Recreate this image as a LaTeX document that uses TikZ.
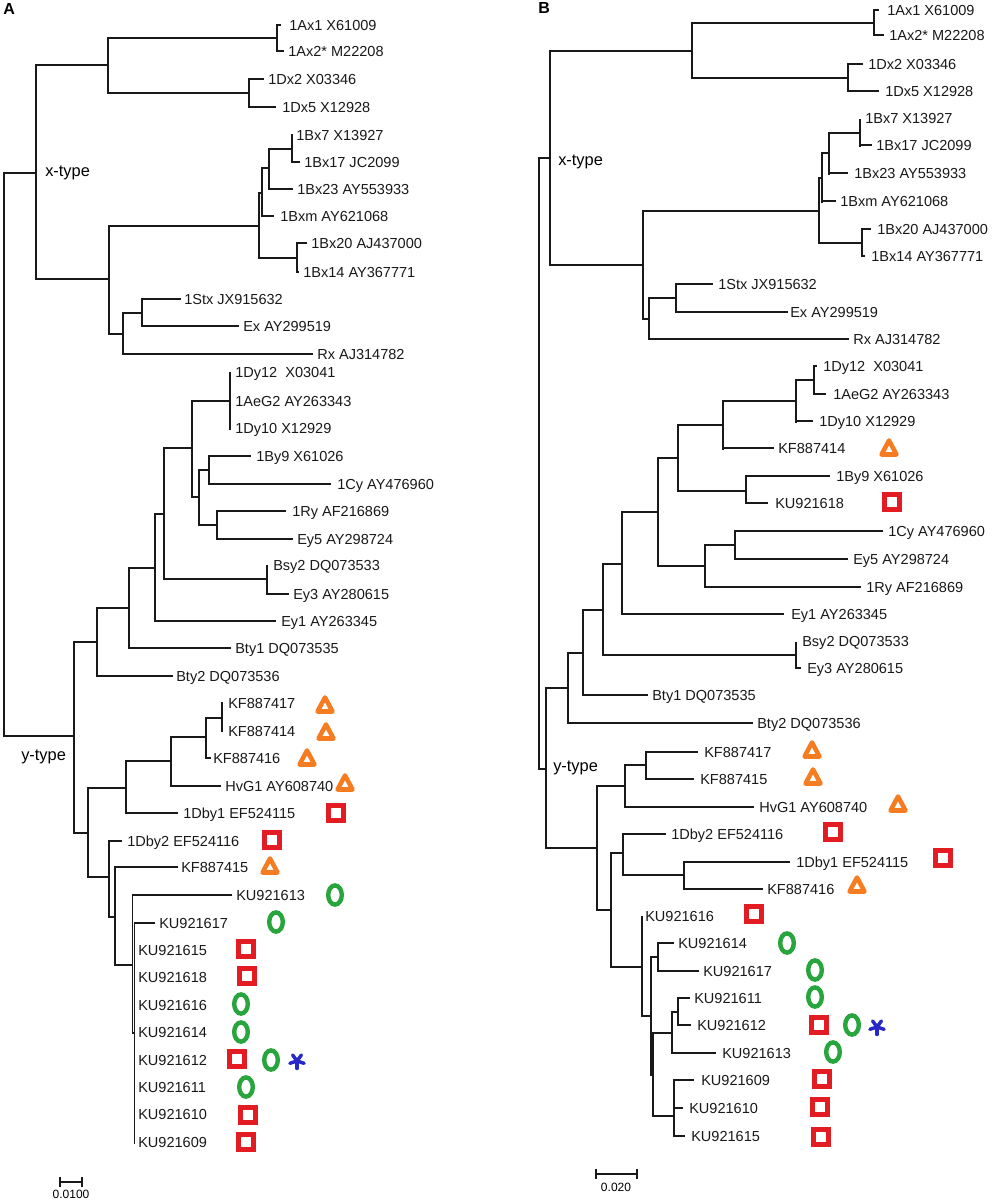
\documentclass[tikz,border=0pt]{standalone}
\usepackage{fontspec}
\setmainfont{Liberation Sans}
\definecolor{mkorange}{RGB}{245,124,32}
\definecolor{mkred}{RGB}{227,27,35}
\definecolor{mkgreen}{RGB}{40,165,60}
\definecolor{mkblue}{RGB}{40,40,200}
\definecolor{brc}{RGB}{25,25,25}
\newcounter{lblcnt}
\newcommand\thl[3]{\draw[br] (#1,#3) -- (#2,#3);}
\newcommand\tvl[3]{\draw[br] (#1,#2) -- (#1,#3);}
\newcommand\tlf[5]{\draw[br] (#1,#4) -- (#2,#4);\stepcounter{lblcnt}\node[lab] (L\arabic{lblcnt}) at (#3,#4+5.2) {#5};}
\newcommand\tlb[3]{\stepcounter{lblcnt}\node[lab] (L\arabic{lblcnt}) at (#1,#2+5.2) {#3};}
\newcommand\mtri[2]{\draw[tri] (#1-7.5,#2+6.5) -- (#1+7.5,#2+6.5) -- (#1,#2-7.5) -- cycle;}
\newcommand\msq[2]{\draw[sqm] (#1-7.5,#2-7.5) rectangle (#1+7.5,#2+7.5);}
\newcommand\mell[2]{\draw[ellm] (#1,#2) ellipse [x radius=6.8, y radius=9.6];}
\newcommand\mstar[2]{\foreach \ang in {90,18,162,234,306}{\draw[starm] (#1,#2) -- ++(\ang:7.5);}}
\begin{document}
\begin{tikzpicture}[x=0.75pt,y=-0.75pt,
  br/.style={draw=brc,line width=1.1pt,line cap=rect},
  lab/.style={anchor=base west,inner sep=0pt,font=\fontsize{10.9pt}{13pt}\selectfont,text=black!90},
  typelab/.style={anchor=base west,inner sep=0pt,font=\fontsize{12.3pt}{14pt}\selectfont},
  panel/.style={anchor=base west,inner sep=0pt,font=\fontsize{12pt}{14pt}\selectfont\bfseries},
  scl/.style={anchor=base,inner sep=0pt,font=\fontsize{9pt}{11pt}\selectfont},
  tri/.style={draw=mkorange,fill=white,line width=3.4pt,line join=round},
  sqm/.style={draw=mkred,fill=white,line width=4.3pt},
  ellm/.style={draw=mkgreen,fill=white,line width=3.3pt},
  starm/.style={draw=mkblue,line width=2.6pt,line cap=round}]
\useasboundingbox[fill=white] (0,0) rectangle (1000,1201);
% ================= Panel A =================
\node[panel] (pA) at (3,15) {A};
\tvl{4}{173}{736}
% x-type
\thl{4}{36}{173}\tvl{36}{65}{279}
\node[typelab] (xA) at (45,177) {x-type};
\thl{36}{108}{65}\tvl{108}{38}{93}
\thl{108}{277}{38}\tvl{277}{25}{51}
\tlf{277}{280}{289}{25}{1Ax1 X61009}
\tlf{277}{283}{288}{51}{1Ax2* M22208}
\thl{108}{249}{93}\tvl{249}{79}{107}
\tlf{249}{263}{268}{79}{1Dx2 X03346}
\tlf{249}{275}{282}{107}{1Dx5 X12928}
\thl{36}{109}{279}\tvl{109}{226}{334}
\thl{109}{259}{226}\tvl{259}{193}{258}
\thl{259}{262}{193}\tvl{262}{168}{216}
\thl{262}{269}{168}\tvl{269}{149}{189}
\thl{269}{292}{149}\tvl{292}{135}{162}
\tlb{296}{135}{1Bx7 X13927}
\tlf{292}{299}{304}{162}{1Bx17 JC2099}
\tlf{269}{292}{297}{189}{1Bx23 AY553933}
\tlf{262}{273}{280}{216}{1Bxm AY621068}
\thl{259}{297}{258}\tvl{297}{243}{272}
\tlf{297}{306}{311}{243}{1Bx20 AJ437000}
\tlf{297}{298}{303}{272}{1Bx14 AY367771}
\thl{109}{123}{334}\tvl{123}{313}{354}
\thl{123}{142}{313}\tvl{142}{299}{326}
\tlf{142}{180}{184}{299}{1Stx JX915632}
\tlf{142}{238}{243}{326}{Ex AY299519}
\tlf{123}{312}{317}{354}{Rx AJ314782}
% y-type
\thl{4}{74}{736}\tvl{74}{642}{833}
\node[typelab] (yA) at (21,760) {y-type};
\thl{74}{97}{642}\tvl{97}{608}{676}
\thl{97}{129}{608}\tvl{129}{568}{648}
\thl{129}{155}{568}\tvl{155}{514}{621}
\thl{155}{164}{514}\tvl{164}{448}{579}
\thl{164}{192}{448}\tvl{192}{401}{497}
\thl{192}{230}{401}\tvl{230}{373}{429}
\tlb{235}{372}{1Dy12\ \ X03041}
\tlb{235}{401}{1AeG2 AY263343}
\tlb{235}{428}{1Dy10 X12929}
\thl{192}{199}{497}\tvl{199}{470}{525}
\thl{199}{209}{470}\tvl{209}{456}{484}
\tlf{209}{250}{256}{456}{1By9 X61026}
\tlf{209}{330}{337}{484}{1Cy AY476960}
\thl{199}{217}{525}\tvl{217}{511}{539}
\tlf{217}{285}{292}{511}{1Ry AF216869}
\tlf{217}{292}{297}{539}{Ey5 AY298724}
\thl{164}{267}{579}\tvl{267}{566}{594}
\tlb{273}{565}{Bsy2 DQ073533}
\tlf{267}{288}{293}{594}{Ey3 AY280615}
\tlf{155}{275}{281}{621}{Ey1 AY263345}
\tlf{129}{230}{235}{648}{Bty1 DQ073535}
\tlf{97}{172}{176}{676}{Bty2 DQ073536}
\thl{74}{88}{833}\tvl{88}{788}{877}
\thl{88}{126}{788}\tvl{126}{761}{813}
\thl{126}{171}{761}\tvl{171}{737}{786}
\thl{171}{206}{737}\tvl{206}{718}{758}
\thl{206}{222}{718}\tvl{222}{703}{731}
\tlb{228}{703}{KF887417}
\tlb{228}{731}{KF887414}
\tlf{206}{210}{213}{758}{KF887416}
\tlf{171}{220}{225}{786}{HvG1 AY608740}
\tlf{126}{177}{183}{813}{1Dby1 EF524115}
\thl{88}{109}{877}\tvl{109}{841}{917}
\tlf{109}{121}{127}{841}{1Dby2 EF524116}
\thl{109}{115}{917}\tvl{115}{867}{965}
\tlf{115}{177}{181}{867}{KF887415}
\thl{115}{132.7}{965}\tvl{132.7}{895}{1033}
\tlf{132.7}{231}{236}{895}{KU921613}
\thl{132.7}{134.5}{1033}\tvl{134.5}{923}{1143}
\tlf{134.5}{154}{159}{923}{KU921617}
\tlb{138}{950}{KU921615}
\tlb{138}{977}{KU921618}
\tlb{138}{1005}{KU921616}
\tlb{138}{1032}{KU921614}
\tlb{138}{1060}{KU921612}
\tlb{138}{1087}{KU921611}
\tlb{138}{1114}{KU921610}
\tlb{138}{1142}{KU921609}
% markers A
\mtri{325}{705}\mtri{326}{732}\mtri{307}{758}\mtri{345}{783}\mtri{270}{866}
\msq{336}{813}\msq{272}{840}\msq{246}{949}\msq{247}{976}\msq{237}{1059}\msq{248}{1115}\msq{246}{1142}
\mell{335}{895}\mell{276}{922}\mell{241}{1004}\mell{241}{1032}\mell{271}{1060}\mell{246}{1087}
\mstar{297}{1061}
% scale A
\coordinate (sa1) at (60,1182);
\coordinate (sa2) at (82,1182);
\draw[br,line width=0.9pt] (sa1) -- (sa2);
\draw[br,line width=0.9pt] ([yshift=3pt]sa1) -- ([yshift=-3pt]sa1);
\draw[br,line width=0.9pt] ([yshift=3pt]sa2) -- ([yshift=-3pt]sa2);
\node[scl] (sla) at (71,1198) {0.0100};
% ================= Panel B =================
\node[panel] (pB) at (538,14) {B};
\tvl{539}{158}{769}
\thl{539}{550}{158}\tvl{550}{51}{265}
\node[typelab] (xB) at (558,166) {x-type};
\thl{550}{692}{51}\tvl{692}{23}{78}
\thl{692}{874}{23}\tvl{874}{10}{35}
\tlf{874}{878}{887}{10}{1Ax1 X61009}
\tlf{874}{883}{889}{35}{1Ax2* M22208}
\thl{692}{848}{78}\tvl{848}{64}{91}
\tlf{848}{862}{868}{64}{1Dx2 X03346}
\tlf{848}{878}{885}{91}{1Dx5 X12928}
\thl{550}{643}{265}\tvl{643}{211}{319}
\thl{643}{819}{211}\tvl{819}{178}{243}
\thl{819}{822}{178}\tvl{822}{153}{202}
\thl{822}{829}{153}\tvl{829}{133}{174}
\thl{829}{860}{133}\tvl{860}{120}{146}
\tlb{865}{118}{1Bx7 X13927}
\tlf{860}{871}{876}{145}{1Bx17 JC2099}
\tlf{829}{847}{854}{173}{1Bx23 AY553933}
\tlf{822}{835}{840}{201}{1Bxm AY621068}
\thl{819}{862}{243}\tvl{862}{229}{256}
\tlf{862}{870}{877}{229}{1Bx20 AJ437000}
\tlf{862}{864}{871}{256}{1Bx14 AY367771}
\thl{643}{649}{319}\tvl{649}{298}{339}
\thl{649}{676}{298}\tvl{676}{284}{312}
\tlf{676}{712}{718}{284}{1Stx JX915632}
\tlf{676}{787}{790}{312}{Ex AY299519}
\tlf{649}{848}{853}{339}{Rx AJ314782}
% y-type
\thl{539}{546}{769}\tvl{546}{688}{848}
\node[typelab] (yB) at (553,771) {y-type};
\thl{546}{568}{688}\tvl{568}{653}{723}
\thl{568}{583}{653}\tvl{583}{610}{695}
\thl{583}{603}{610}\tvl{603}{564}{655}
\thl{603}{622}{564}\tvl{622}{512}{614}
\thl{622}{658}{512}\tvl{658}{458}{566}
\thl{658}{678}{458}\tvl{678}{425}{491}
\thl{678}{723}{425}\tvl{723}{401}{449}
\thl{723}{796}{401}\tvl{796}{380}{422}
\thl{796}{814}{380}\tvl{814}{367}{394}
\tlf{814}{816}{823}{366}{1Dy12\ \ X03041}
\tlf{814}{825}{833}{394}{1AeG2 AY263343}
\tlf{796}{812}{819}{421}{1Dy10 X12929}
\tlf{723}{773}{778}{448}{KF887414}
\thl{678}{746}{491}\tvl{746}{476}{503}
\tlf{746}{829}{836}{476}{1By9 X61026}
\tlf{746}{767}{775}{503}{KU921618}
\thl{658}{705}{566}\tvl{705}{545}{587}
\thl{705}{735}{545}\tvl{735}{531}{559}
\tlf{735}{882}{888}{531}{1Cy AY476960}
\tlf{735}{847}{853}{559}{Ey5 AY298724}
\tlf{705}{860}{866}{587}{1Ry AF216869}
\tlf{622}{783}{791}{614}{Ey1 AY263345}
\thl{603}{796}{655}\tvl{796}{643}{668}
\tlb{802}{641}{Bsy2 DQ073533}
\tlf{796}{800}{807}{668}{Ey3 AY280615}
\tlf{583}{647}{652}{695}{Bty1 DQ073535}
\tlf{568}{752}{757}{723}{Bty2 DQ073536}
\thl{546}{597}{848}\tvl{597}{786}{910}
\thl{597}{625}{786}\tvl{625}{765}{807}
\thl{625}{646}{765}\tvl{646}{752}{779}
\tlf{646}{697}{704}{752}{KF887417}
\tlf{646}{693}{700}{779}{KF887415}
\tlf{625}{753}{759}{807}{HvG1 AY608740}
\thl{597}{611}{910}\tvl{611}{853}{967}
\thl{611}{623}{853}\tvl{623}{834}{875}
\tlf{623}{665}{671}{834}{1Dby2 EF524116}
\thl{623}{684}{875}\tvl{684}{862}{889}
\tlf{684}{789}{796}{862}{1Dby1 EF524115}
\tlf{684}{762}{767}{889}{KF887416}
\thl{611}{642}{967}\tvl{642}{917}{1016}
\tlb{645}{916}{KU921616}
\thl{642}{651}{1016}\tvl{651}{957}{1075}
\thl{651}{658}{957}\tvl{658}{943}{971}
\tlf{658}{673}{678}{943}{KU921614}
\tlf{658}{698}{703}{971}{KU921617}
\thl{651}{653}{1075}\tvl{653}{1033}{1116}
\thl{653}{672}{1033}\tvl{672}{1012}{1053}
\thl{672}{678}{1012}\tvl{678}{998}{1025}
\tlf{678}{689}{694}{998}{KU921611}
\tlf{678}{690}{697}{1025}{KU921612}
\tlf{672}{715}{722}{1053}{KU921613}
\thl{653}{674}{1116}\tvl{674}{1080}{1136}
\tlf{674}{693}{701}{1080}{KU921609}
\tlf{674}{682}{689}{1108}{KU921610}
\tlf{674}{684}{691}{1136}{KU921615}
% markers B
\mtri{889}{448}\mtri{812}{750}\mtri{813}{777}\mtri{898}{804}\mtri{857}{885}
\msq{892}{502}\msq{833}{832}\msq{943}{858}\msq{754}{914}\msq{819}{1025}\msq{822}{1079}\msq{820}{1107}\msq{821}{1137}
\mell{787}{943}\mell{815}{970}\mell{815}{997}\mell{852}{1025}\mell{833}{1052}
\mstar{877}{1027}
% scale B
\coordinate (sb1) at (596,1174);
\coordinate (sb2) at (637,1174);
\draw[br,line width=0.9pt] (sb1) -- (sb2);
\draw[br,line width=0.9pt] ([yshift=3pt]sb1) -- ([yshift=-3pt]sb1);
\draw[br,line width=0.9pt] ([yshift=3pt]sb2) -- ([yshift=-3pt]sb2);
\node[scl] (slb) at (616,1191) {0.020};
\end{tikzpicture}
\end{document}
